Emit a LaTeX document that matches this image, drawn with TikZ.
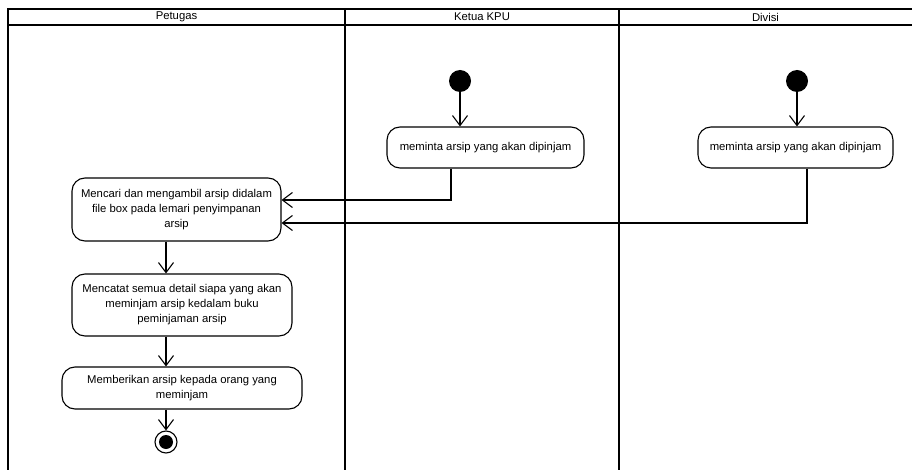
\documentclass[tikz,border=0pt]{standalone}
\usepackage{fontspec}
\setmainfont{Liberation Sans}
\usetikzlibrary{arrows.meta}
\begin{document}
\begin{tikzpicture}[x=1pt, y=-1pt,
    lane/.style={line width=2.4pt},
    judul/.style={font=\fontsize{11.3}{13}\selectfont},
    aksi/.style={draw, line width=1.1pt, rounded corners=13pt, align=center,
        font=\fontsize{11.3}{15}\selectfont, inner sep=0pt},
    mulai/.style={circle, fill=black, minimum size=22pt, inner sep=0pt},
    alur/.style={line width=1.1pt, -{Straight Barb[length=10pt,width=15pt]}}]
    \useasboundingbox (0,0) rectangle (912,470);
    \draw[lane] (8,470) -- (8,9) -- (912,9);
    \draw[lane] (8,25) -- (912,25);
    \draw[lane] (345,9) -- (345,470);
    \draw[lane] (619,9) -- (619,470);
    \node[judul] (petugas) at (176.5,17) {Petugas};
    \node[judul] (ketua) at (482,17) {Ketua KPU};
    \node[judul] (divisi) at (765.5,17) {Divisi};
    \node[mulai] (mulaiKetua) at (460,81) {};
    \node[mulai] (mulaiDivisi) at (797,81) {};
    \node[aksi, minimum width=197pt, minimum height=41pt] (mintaKetua) at (485.5,147.5) {meminta arsip yang akan dipinjam};
    \node[aksi, minimum width=195pt, minimum height=41pt] (mintaDivisi) at (795.5,147.5) {meminta arsip yang akan dipinjam};
    \node[aksi, minimum width=209pt, minimum height=63pt] (cari) at (176.5,209.5) {Mencari dan mengambil arsip didalam\\file box pada lemari penyimpanan\\arsip};
    \node[aksi, minimum width=220pt, minimum height=62pt] (catat) at (182,305) {Mencatat semua detail siapa yang akan\\meminjam arsip kedalam buku\\peminjaman arsip};
    \node[aksi, minimum width=240pt, minimum height=42pt] (beri) at (182,388) {Memberikan arsip kepada orang yang\\meminjam};
    \node[circle, draw, line width=1.1pt, minimum size=22pt, inner sep=0pt] (selesai) at (166,442) {};
    \node[mulai, minimum size=14pt] (selesaiTitik) at (selesai) {};
    \draw[alur] (mulaiKetua) -- (mulaiKetua |- mintaKetua.north);
    \draw[alur] (mulaiDivisi) -- (mulaiDivisi |- mintaDivisi.north);
    \draw[alur] ([xshift=-34.5pt]mintaKetua.south) |- ([yshift=9.5pt]cari.east);
    \draw[alur] ([xshift=11.5pt]mintaDivisi.south) |- ([yshift=-13.5pt]cari.east);
    \draw[alur] (cari.south -| selesai) -- (catat.north -| selesai);
    \draw[alur] (catat.south -| selesai) -- (beri.north -| selesai);
    \draw[alur] (beri.south -| selesai) -- (selesai);
\end{tikzpicture}
\end{document}
